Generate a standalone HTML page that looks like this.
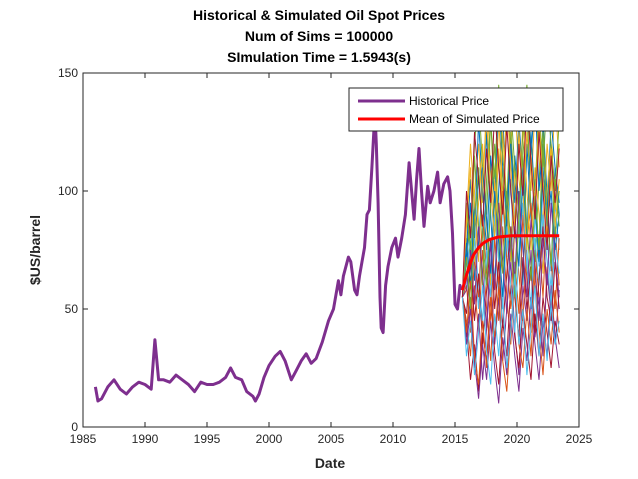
<!DOCTYPE html>
<html><head><meta charset="utf-8"><style>
html,body{margin:0;padding:0;background:#fff;}
svg{display:block;font-family:"Liberation Sans",Arial,sans-serif;}
</style></head><body>
<svg id="chart" width="638" height="479" viewBox="0 0 638 479" xmlns="http://www.w3.org/2000/svg">
<rect x="0" y="0" width="638" height="479" fill="#fff"/>
<g font-weight="bold" font-size="14" fill="#000" text-anchor="middle">
<text x="319" y="20">Historical &amp; Simulated Oil Spot Prices</text>
<text x="319" y="41">Num of Sims = 100000</text>
<text x="319" y="62">SImulation Time = 1.5943(s)</text>
</g>
<g id="plot"></g>
<text x="330" y="468" text-anchor="middle" font-weight="bold" font-size="14" fill="#262626">Date</text>
<text transform="translate(40,250) rotate(-90)" text-anchor="middle" font-weight="bold" font-size="14" fill="#262626">$US/barrel</text>
<g>
<rect x="349" y="88" width="214" height="43" fill="#fff" stroke="#262626" stroke-width="1"/>
<line x1="358" y1="101" x2="405" y2="101" stroke="#7E2F8E" stroke-width="3"/>
<text x="409" y="105" font-size="12" fill="#000">Historical Price</text>
<line x1="358" y1="119" x2="405" y2="119" stroke="#FF0000" stroke-width="3"/>
<text x="409" y="123" font-size="12" fill="#000">Mean of Simulated Price</text>
</g>
</svg>
<script>
const xTicks=[1985,1990,1995,2000,2005,2010,2015,2020,2025];
const yTicks=[0,50,100,150];
const histYears=[1986.0,1986.2,1986.5,1987,1987.5,1988,1988.5,1989,1989.5,1990,1990.5,1990.8,1991.1,1991.5,1992,1992.5,1993,1993.5,1994,1994.5,1995,1995.5,1996,1996.5,1996.9,1997.3,1997.8,1998.2,1998.7,1998.9,1999.2,1999.6,2000,2000.5,2000.9,2001.3,2001.8,2002.2,2002.6,2003,2003.4,2003.8,2004.3,2004.8,2005.2,2005.6,2005.8,2006,2006.4,2006.6,2006.9,2007.1,2007.3,2007.5,2007.7,2007.9,2008.1,2008.3,2008.45,2008.55,2008.65,2008.8,2008.95,2009.05,2009.2,2009.4,2009.6,2009.9,2010.2,2010.4,2010.7,2011,2011.3,2011.5,2011.7,2011.9,2012.1,2012.3,2012.5,2012.8,2013,2013.3,2013.6,2013.8,2014.1,2014.4,2014.6,2014.8,2015.0,2015.2,2015.4,2015.5];
const histPrice=[17,11,12,17,20,16,14,17,19,18,16,37,20,20,19,22,20,18,15,19,18,18,19,21,25,21,20,15,13,11,14,21,26,30,32,28,20,24,28,31,27,29,36,45,50,62,56,64,72,70,58,56,64,70,76,90,92,110,125,133,120,95,55,42,40,60,68,76,80,72,80,90,112,100,88,105,118,100,85,102,95,100,108,95,103,106,100,82,52,50,60,58];
const meanYears=[2015.6,2015.9,2016.2,2016.5,2016.9,2017.3,2017.8,2018.5,2019.5,2023.4];
const meanPrice=[58,64,69,73,76,78,79.5,80.5,81,81];
const simStart=2015.6, simEnd=2023.4;
const sims=[
[55,70,95,62,110,80,125,90,60,100,135,85,70,115,95,60,120,88,105,72,130,98,66,110,90],
[55,45,30,60,40,75,50,28,65,45,85,55,35,70,48,90,62,40,75,55,30,68,50,85,60],
[55,80,60,100,120,95,140,110,85,130,100,75,120,140,105,90,125,100,135,115,85,120,100,140,110],
[55,38,55,25,48,20,42,65,35,55,28,50,70,40,22,60,45,75,38,55,30,65,48,35,58],
[55,90,70,115,85,60,105,130,95,70,110,88,125,100,80,115,138,92,70,105,125,90,115,80,100],
[55,62,85,70,50,88,65,100,78,55,95,72,105,60,85,110,75,50,90,68,100,80,58,95,75],
[55,42,20,35,15,40,28,55,32,18,45,30,60,38,25,50,35,20,48,30,55,40,25,45,35],
[55,75,105,80,130,100,75,115,95,140,110,85,120,95,130,105,80,115,140,100,120,90,130,110,95],
[55,60,40,72,55,90,65,45,80,60,100,70,50,85,65,45,78,95,62,80,55,90,70,50,80],
[55,85,110,70,95,120,85,60,105,80,125,95,70,110,88,130,100,75,110,90,65,100,120,85,105],
[55,35,50,28,12,35,20,45,25,10,38,22,48,30,15,42,28,55,35,20,45,30,60,38,25],
[55,95,75,120,140,110,90,130,105,145,115,95,135,110,90,125,145,115,100,135,110,140,120,100,130],
[55,65,50,80,60,45,75,55,90,70,50,85,60,40,75,95,68,50,80,60,90,70,52,78,65],
[55,48,70,45,65,35,58,80,50,70,42,65,85,55,38,72,50,68,40,62,85,55,45,70,50],
[55,78,60,95,75,110,88,65,100,78,55,92,120,85,68,105,80,125,95,70,110,85,100,75,90],
[55,40,62,30,18,45,25,55,38,60,28,15,42,60,35,25,50,30,65,42,22,50,35,58,40],
[55,88,120,95,70,105,130,100,80,118,92,140,110,85,125,100,75,115,95,130,105,80,118,92,120],
[55,58,75,52,85,65,42,78,58,95,70,48,82,62,100,75,55,88,68,45,80,60,95,72,55],
[55,72,50,88,110,80,60,95,120,85,65,100,78,55,90,115,85,62,98,75,120,90,68,105,85],
[55,30,45,22,40,60,32,18,48,30,55,25,40,65,35,50,22,42,60,30,48,28,52,35,45],
[55,100,80,125,105,85,118,95,135,110,90,128,100,80,120,98,140,112,88,125,100,75,115,95,118]
];
const colors=["#0072BD","#D95319","#EDB120","#7E2F8E","#77AC30","#4DBEEE","#A2142F"];
const L=83,R=579,T=73,B=427;
function xs(v){return L+(v-1985)/(2025-1985)*(R-L);}
function ys(v){return B-(v-0)/(150-0)*(B-T);}
const NS="http://www.w3.org/2000/svg";
const plot=document.getElementById('plot');
function mk(tag,attrs,parent){const e=document.createElementNS(NS,tag);for(const k in attrs)e.setAttribute(k,attrs[k]);(parent||plot).appendChild(e);return e;}
mk('rect',{x:L,y:T,width:R-L,height:B-T,fill:'#fff'});
const clip=mk('clipPath',{id:'clp'});mk('rect',{x:L,y:T,width:R-L,height:B-T},clip);
const g=mk('g',{'clip-path':'url(#clp)'});
sims.forEach((s,i)=>{
  const pts=s.map((v,j)=>xs(simStart+j*(simEnd-simStart)/(s.length-1)).toFixed(1)+','+ys(v).toFixed(1)).join(' ');
  const p=mk('polyline',{points:pts,fill:'none',stroke:colors[i%colors.length],'stroke-width':1},g);
  
  
});
const hp=mk('polyline',{points:histYears.map((y,i)=>xs(y).toFixed(1)+','+ys(histPrice[i]).toFixed(1)).join(' '),fill:'none',stroke:'#7E2F8E','stroke-width':3,'stroke-linejoin':'round'},g);


const mp=mk('polyline',{points:meanYears.map((y,i)=>xs(y).toFixed(1)+','+ys(meanPrice[i]).toFixed(1)).join(' '),fill:'none',stroke:'#FF0000','stroke-width':3,'stroke-linejoin':'round'},g);


mk('rect',{x:L,y:T,width:R-L,height:B-T,fill:'none',stroke:'#262626','stroke-width':1});
xTicks.forEach(t=>{const x=xs(t);
  mk('line',{x1:x,y1:B,x2:x,y2:B-5,stroke:'#262626'});
  mk('line',{x1:x,y1:T,x2:x,y2:T+5,stroke:'#262626'});
  const tx=mk('text',{x:x,y:B+16,'text-anchor':'middle','font-size':12,fill:'#262626'});tx.textContent=t;
  
  
});
yTicks.forEach(t=>{const y=ys(t);
  mk('line',{x1:L,y1:y,x2:L+5,y2:y,stroke:'#262626'});
  mk('line',{x1:R,y1:y,x2:R-5,y2:y,stroke:'#262626'});
  const tx=mk('text',{x:L-5,y:y+4,'text-anchor':'end','font-size':12,fill:'#262626'});tx.textContent=t;
  
  
});
</script>
</body></html>
